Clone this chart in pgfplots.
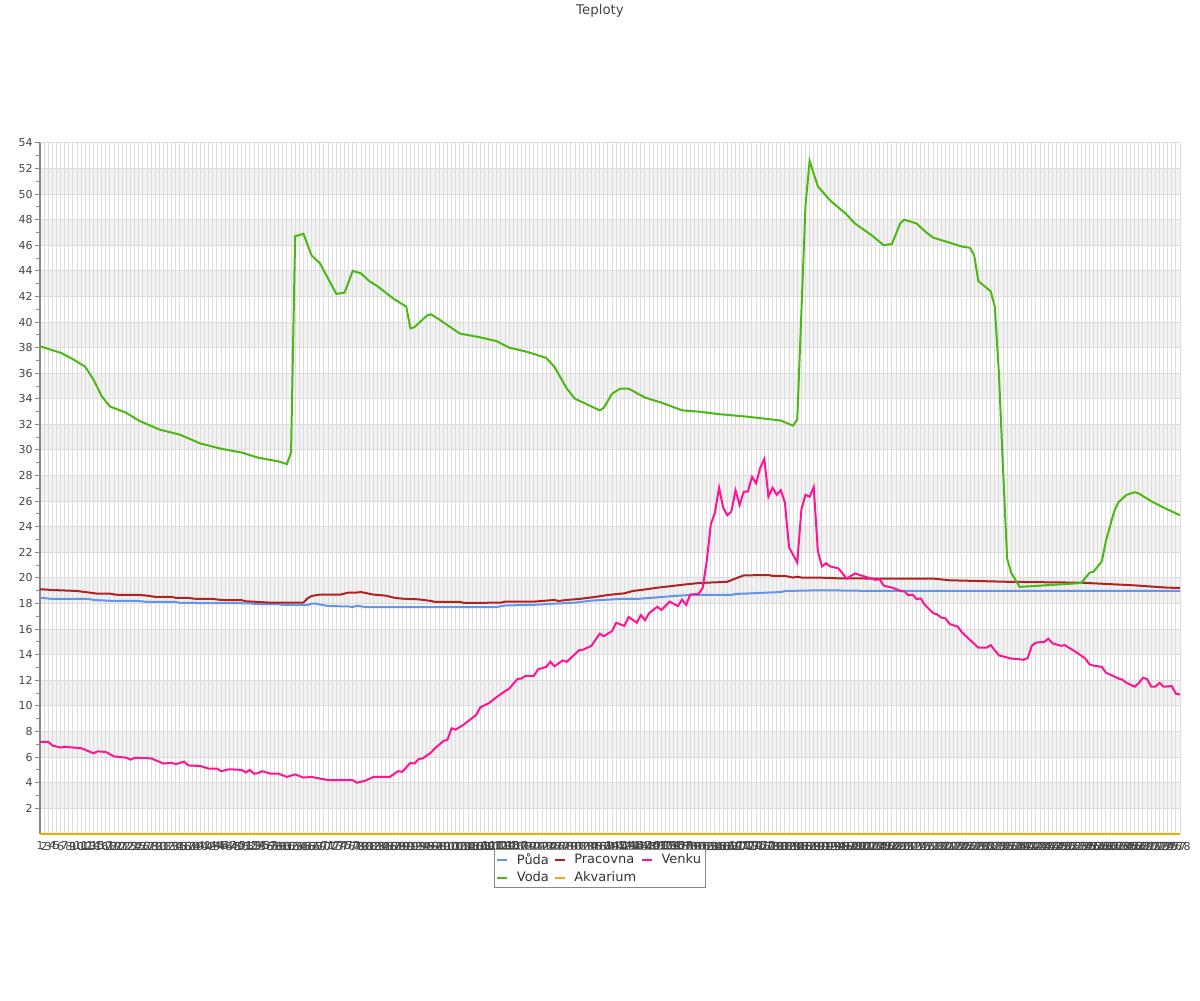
\documentclass[border=0pt]{standalone}
\usepackage{fontspec}
\setmainfont{DejaVu Sans}
\usepackage{pgfplots}
\pgfplotsset{compat=1.18}
\definecolor{puda}{HTML}{6495ED}
\definecolor{voda}{HTML}{4CB814}
\definecolor{pracovna}{HTML}{B22222}
\definecolor{venku}{HTML}{FF1493}
\definecolor{akvarium}{HTML}{FFA500}
\definecolor{band}{HTML}{F2F2F2}
\definecolor{gridc}{HTML}{DDDDDD}
\definecolor{axisc}{HTML}{888888}
\definecolor{labelc}{HTML}{444444}
\begin{document}
\begin{tikzpicture}
\begin{axis}[
  name=main,
  set layers=standard,
  scale only axis,
  width=855pt, height=518.25pt,
  xmin=1, xmax=278, ymin=0, ymax=54,
  clip=false,
  xtick={1,...,278},
  ytick={2,4,...,54},
  minor y tick num=1,
  xmajorgrids, ymajorgrids,
  major grid style={draw=gridc, line width=0.75pt},
  axis x line*=bottom, axis y line*=left,
  axis line style={draw=axisc, line width=0.75pt},
  tick align=outside,
  major tick length=4pt, minor tick length=3pt,
  xtick style={draw=none},
  ytick style={draw=axisc, line width=0.75pt},
  ticklabel style={font=\fontsize{8.25}{10}\selectfont, text=labelc},
  yticklabel style={xshift=2pt},
  xticklabel style={yshift=1.5pt},
  /pgf/number format/assume math mode=true,
  /pgf/number format/1000 sep={},
  legend columns=3,
  legend cell align=left,
  legend style={at={(0.4912,-0.0217)}, anchor=north, draw=axisc, line width=0.75pt,
    font=\fontsize{9.75}{11}\selectfont, text=black!80,
    inner xsep=1.5pt, inner ysep=1pt,
    nodes={inner xsep=2pt, inner ysep=2pt},
    /tikz/every odd column/.append style={column sep=4.5pt},
    /tikz/every even column/.append style={column sep=1.5pt}},
  legend image code/.code={\draw[#1, line width=1.5pt] (0pt,0pt) -- (7.5pt,0pt);},
]
\begin{pgfonlayer}{axis background}
\pgfplotsinvokeforeach{2,6,...,50}{
  \fill[band] (axis cs:1,#1) rectangle (axis cs:278,#1+2);
}
\end{pgfonlayer}

% Puda
\addplot[puda, line width=1.5pt] coordinates {
(1,18.46)(4,18.36)(13,18.36)(14,18.28)(19,18.2)(25,18.2)(27,18.13)(34,18.13)
(35,18.05)(52,18.02)(53,17.97)(59,17.95)(60,17.89)(66,17.89)(67,17.99)(68,17.99)
(71,17.81)(76,17.77)(77,17.73)(78,17.83)(80,17.73)(112,17.73)(114,17.85)(121,17.9)
(126,17.99)(131,18.07)(135,18.23)(142,18.36)(146,18.36)(150,18.46)(155,18.59)
(159,18.67)(169,18.67)(170,18.75)(174,18.8)(178,18.86)(181,18.9)(182,18.98)
(191,19.04)(200,19.0)(278,19.0)
};
\addlegendentry{Půda}

% Pracovna
\addplot[pracovna, line width=1.5pt] coordinates {
(1,19.12)(4,19.06)(10,18.98)(12,18.9)(15,18.77)(18,18.77)(20,18.67)(25,18.67)
(27,18.62)(29,18.52)(33,18.52)(34,18.44)(37,18.44)(39,18.36)(43,18.36)(45,18.28)
(50,18.26)(51,18.18)(57,18.07)(65,18.07)(66,18.41)(67,18.59)(69,18.7)(74,18.7)
(76,18.86)(78,18.86)(79,18.9)(82,18.7)(85,18.62)(87,18.46)(89,18.38)(93,18.33)
(96,18.2)(97,18.13)(103,18.13)(104,18.05)(113,18.07)(114,18.15)(121,18.15)
(126,18.28)(127,18.2)(129,18.28)(132,18.36)(136,18.52)(139,18.67)(143,18.8)
(145,18.98)(148,19.1)(151,19.24)(154,19.35)(158,19.5)(161,19.6)(168,19.7)
(170,19.96)(172,20.2)(178,20.23)(179,20.16)(182,20.16)(184,20.03)(185,20.1)
(186,20.03)(190,20.03)(196,19.96)(218,19.95)(222,19.82)(236,19.7)(254,19.63)
(259,19.55)(267,19.42)(275,19.24)(278,19.22)
};
\addlegendentry{Pracovna}

% Venku
\addplot[venku, line width=1.5pt] coordinates {
(1,7.2)(3,7.2)(4,6.9)(6,6.75)(7,6.8)(11,6.7)(14,6.3)(15,6.45)(17,6.4)(19,6.05)
(22,5.95)(23,5.8)(24,5.95)(28,5.9)(31,5.5)(33,5.55)(34,5.45)(36,5.65)(37,5.35)
(40,5.3)(42,5.1)(44,5.1)(45,4.9)(47,5.05)(50,5.0)(51,4.8)(52,5.0)(53,4.7)
(54,4.75)(55,4.9)(57,4.7)(59,4.7)(61,4.45)(63,4.65)(65,4.4)(67,4.45)(71,4.2)
(77,4.2)(78,4.0)(80,4.15)(82,4.45)(86,4.45)(88,4.9)(89,4.85)(91,5.55)(92,5.5)
(93,5.85)(94,5.9)(96,6.35)(97,6.7)(99,7.25)(100,7.35)(101,8.25)(102,8.15)
(104,8.55)(107,9.3)(108,9.9)(110,10.2)(112,10.7)(114,11.15)(115,11.35)
(117,12.1)(118,12.15)(119,12.35)(121,12.35)(122,12.85)(124,13.05)(125,13.45)
(126,13.1)(128,13.55)(129,13.45)(131,14.05)(132,14.35)(133,14.4)(135,14.7)
(137,15.65)(138,15.45)(140,15.85)(141,16.5)(143,16.25)(144,16.95)(146,16.5)
(147,17.1)(148,16.7)(149,17.25)(151,17.75)(152,17.5)(154,18.15)(156,17.8)
(157,18.3)(158,17.9)(159,18.7)(161,18.75)(162,19.2)(163,21.3)(164,24.2)
(165,25.1)(166,27.05)(167,25.5)(168,24.9)(169,25.2)(170,26.85)(171,25.7)
(172,26.75)(173,26.75)(174,27.9)(175,27.4)(176,28.6)(177,29.3)(178,26.35)
(179,27.05)(180,26.5)(181,26.85)(182,25.9)(183,22.4)(185,21.2)(186,25.35)
(187,26.5)(188,26.35)(189,27.1)(190,22.1)(191,20.9)(192,21.15)(193,20.9)
(195,20.75)(197,19.95)(199,20.35)(201,20.15)(204,19.85)(205,19.9)(206,19.4)
(208,19.25)(210,19.0)(211,18.95)(212,18.65)(213,18.7)(214,18.35)(215,18.4)
(216,17.9)(218,17.25)(219,17.15)(220,16.9)(221,16.85)(222,16.4)(224,16.2)
(225,15.75)(228,14.85)(229,14.55)(231,14.55)(232,14.75)(234,13.95)(237,13.7)
(239,13.65)(240,13.6)(241,13.75)(242,14.7)(243,14.95)(245,15.0)(246,15.25)
(247,14.9)(249,14.7)(250,14.75)(251,14.55)(253,14.15)(255,13.7)(256,13.25)
(257,13.15)(259,13.05)(260,12.6)(261,12.45)(263,12.15)(264,12.05)(265,11.8)
(267,11.5)(268,11.8)(269,12.2)(270,12.1)(271,11.5)(272,11.5)(273,11.8)
(274,11.5)(276,11.55)(277,10.95)(278,10.9)
};
\addlegendentry{Venku}

% Voda
\addplot[voda, line width=1.5pt] coordinates {
(1,38.1)(6,37.6)(9,37.1)(12,36.5)(14,35.5)(16,34.2)(18,33.4)(22,32.9)(25,32.3)
(30,31.6)(35,31.2)(40,30.5)(45,30.1)(50,29.8)(54,29.4)(59,29.1)(61,28.9)
(62,29.8)(63,46.7)(65,46.9)(67,45.2)(69,44.6)(71,43.4)(73,42.2)(75,42.3)
(77,44.0)(79,43.8)(81,43.2)(83,42.8)(85,42.3)(87,41.8)(90,41.2)(91,39.5)
(92,39.6)(95,40.5)(96,40.6)(98,40.2)(103,39.1)(108,38.8)(112,38.5)(115,38.0)
(119,37.7)(124,37.2)(126,36.5)(129,34.8)(131,34.0)(135,33.4)(137,33.1)
(138,33.3)(140,34.4)(142,34.8)(144,34.8)(148,34.1)(152,33.7)(157,33.1)
(161,33.0)(166,32.8)(173,32.6)(181,32.3)(184,31.9)(185,32.4)(187,49.1)
(188,52.6)(190,50.6)(193,49.5)(197,48.4)(199,47.7)(203,46.8)(206,46.0)
(208,46.1)(210,47.7)(211,48.0)(214,47.7)(216,47.1)(218,46.6)(221,46.3)
(225,45.9)(227,45.8)(228,45.2)(229,43.2)(232,42.4)(233,41.2)(234,36.0)
(235,28.5)(236,21.5)(237,20.4)(239,19.3)(249,19.5)(254,19.6)(256,20.4)
(257,20.5)(259,21.3)(260,22.9)(262,25.2)(263,25.9)(265,26.5)(267,26.7)
(268,26.6)(271,26.0)(274,25.5)(278,24.9)
};
\addlegendentry{Voda}

% Akvarium
\addplot[akvarium, line width=1.5pt] coordinates {
(1,0)(278,0)
};
\addlegendentry{Akvarium}
\end{axis}
\node[font=\fontsize{10}{12}\selectfont, text=labelc] at ([xshift=420pt,yshift=99pt]main.north west) {Teploty};
\path ([xshift=-30pt,yshift=-125.25pt]main.south west) rectangle ([xshift=15pt,yshift=106.5pt]main.north east);
\end{tikzpicture}
\end{document}
